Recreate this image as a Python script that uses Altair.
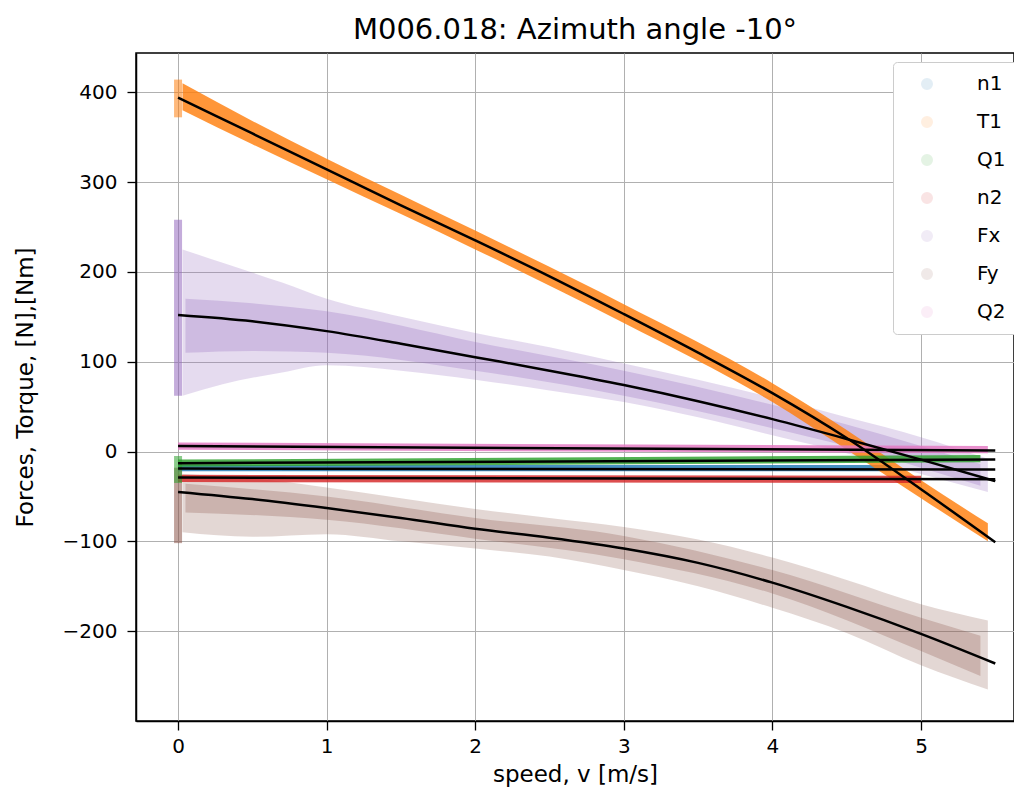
import altair as alt
import pandas as pd

series = ["n1", "T1", "Q1", "n2", "Fx", "Fy", "Q2"]
colors = ["#1f77b4", "#ff7f0e", "#2ca02c", "#d62728", "#9467bd", "#8c564b", "#e377c2"]

# fitted curves (black)
fit_v = [0.0, 0.5, 1.0, 1.5, 2.0, 2.5, 3.0, 3.5, 4.0, 4.5, 5.0, 5.5]
fit_T1 = [394, 354, 314, 274, 235, 195, 153, 110, 65, 15, -42, -101]
fit_Fx = [152, 145, 134, 120, 105, 90, 74, 56, 36, 14, -9, -33]
fit_Fy = [-45, -53, -63, -74, -86, -96, -108, -124, -146, -173, -203, -236]
flat_v = [0.0, 5.5]
fit_n1 = [-19, -20]
fit_Q1 = [-13, -9]
fit_n2 = [-29, -31]
fit_Q2 = [6, 1]

# envelopes of the measured scatter clouds
band_T1_v = [0.03, 0.5, 1, 2, 3, 4, 4.5, 5, 5.45]
band_T1_lo = [380, 342, 303, 225, 143, 55, 2, -52, -100]
band_T1_hi = [410, 368, 326, 246, 164, 76, 24, -32, -80]
band_Fx_v = [0.03, 0.3, 0.7, 1, 1.5, 2, 2.5, 3, 3.5, 4, 4.5, 5, 5.45]
band_Fx_lo = [62, 75, 88, 96, 90, 80, 68, 55, 38, 18, -2, -25, -45]
band_Fx_hi = [225, 210, 188, 170, 150, 132, 116, 98, 80, 60, 38, 16, -8]
band_Fy_v = [0.03, 0.5, 1, 1.5, 2, 2.5, 3, 3.5, 4, 4.5, 5, 5.45]
band_Fy_lo = [-90, -95, -92, -100, -108, -117, -132, -150, -174, -202, -238, -265]
band_Fy_hi = [-25, -30, -40, -52, -64, -74, -84, -98, -118, -143, -170, -188]
# denser cores of the two widest clouds
core_Fx_v = [0.05, 0.5, 1, 2, 3, 4, 4.5, 5, 5.4]
core_Fx_lo = [110, 112, 110, 90, 62, 26, 6, -18, -38]
core_Fx_hi = [170, 165, 156, 122, 90, 52, 30, 6, -14]
core_Fy_v = [0.05, 1, 2, 3, 4, 5, 5.4]
core_Fy_lo = [-68, -76, -97, -120, -158, -222, -250]
core_Fy_hi = [-36, -50, -74, -94, -132, -185, -205]
band_n1_v = [0.0, 4.8]
band_n1_lo = [-22, -22]
band_n1_hi = [-15, -15]
band_Q1_v = [0.0, 5.4]
band_Q1_lo = [-17, -12]
band_Q1_hi = [-9, -4]
band_n2_v = [0.0, 5.0]
band_n2_lo = [-34, -35]
band_n2_hi = [-26, -27]
band_Q2_v = [0.0, 5.45]
band_Q2_lo = [2, -2]
band_Q2_hi = [10, 6]

# vertical streaks of points measured at v = 0
streak_series = ["T1", "Fx", "Fy", "Q1"]
streak_lo = [372, 62, -102, -35]
streak_hi = [414, 258, -18, -5]


def band_frame(names, table):
    rows = []
    for s in names:
        vv, lo, hi = table[s]
        for a, b, c in zip(vv, lo, hi):
            rows.append({"series": s, "v": a, "lo": b, "hi": c})
    return pd.DataFrame(rows)


dense_df = band_frame(["n1", "T1", "Q1", "n2", "Q2"], {
    "n1": (band_n1_v, band_n1_lo, band_n1_hi),
    "T1": (band_T1_v, band_T1_lo, band_T1_hi),
    "Q1": (band_Q1_v, band_Q1_lo, band_Q1_hi),
    "n2": (band_n2_v, band_n2_lo, band_n2_hi),
    "Q2": (band_Q2_v, band_Q2_lo, band_Q2_hi),
})
wide_df = band_frame(["Fx", "Fy"], {
    "Fx": (band_Fx_v, band_Fx_lo, band_Fx_hi),
    "Fy": (band_Fy_v, band_Fy_lo, band_Fy_hi),
})
core_df = band_frame(["Fx", "Fy"], {
    "Fx": (core_Fx_v, core_Fx_lo, core_Fx_hi),
    "Fy": (core_Fy_v, core_Fy_lo, core_Fy_hi),
})

fits = {
    "n1": (flat_v, fit_n1), "T1": (fit_v, fit_T1), "Q1": (flat_v, fit_Q1),
    "n2": (flat_v, fit_n2), "Fx": (fit_v, fit_Fx), "Fy": (fit_v, fit_Fy),
    "Q2": (flat_v, fit_Q2),
}
fit_rows = []
for s in series:
    vv, yy = fits[s]
    for a, b in zip(vv, yy):
        fit_rows.append({"series": s, "v": a, "y": b})
fit_df = pd.DataFrame(fit_rows)

streak_df = pd.DataFrame({"series": streak_series, "v": [0.0] * 4,
                          "lo": streak_lo, "hi": streak_hi})
# one hidden point per series, only to carry the legend
legend_df = pd.DataFrame({"series": series, "v": [-5.0] * 7, "y": [0.0] * 7})

xscale = alt.Scale(domain=[-0.283, 5.626], nice=False, zero=False)
yscale = alt.Scale(domain=[-300, 443.6], nice=False, zero=False)
cscale = alt.Scale(domain=series, range=colors)

xaxis = alt.Axis(values=[0, 1, 2, 3, 4, 5], title="speed, v [m/s]", format="d")
yaxis = alt.Axis(values=[-200, -100, 0, 100, 200, 300, 400],
                 title="Forces, Torque, [N],[Nm]", format="d")

legend_layer = alt.Chart(legend_df).mark_circle(opacity=0.12, size=110, clip=True).encode(
    x=alt.X("v:Q", scale=xscale, axis=xaxis),
    y=alt.Y("y:Q", scale=yscale, axis=yaxis),
    color=alt.Color("series:N", scale=cscale, sort=series,
                    legend=alt.Legend(title=None, orient="none",
                                      legendX=757, legendY=9)),
)


def area_layer(df, op):
    return alt.Chart(df).mark_area(clip=True, interpolate="monotone", opacity=op).encode(
        x=alt.X("v:Q", scale=xscale),
        y=alt.Y("lo:Q", scale=yscale),
        y2="hi:Q",
        color=alt.Color("series:N", scale=cscale, legend=None),
        detail="series:N",
    )


streak_layer = alt.Chart(streak_df).mark_rule(strokeWidth=8, opacity=0.55, clip=True).encode(
    x=alt.X("v:Q", scale=xscale),
    y=alt.Y("lo:Q", scale=yscale),
    y2="hi:Q",
    color=alt.Color("series:N", scale=cscale, legend=None),
)

fit_layer = alt.Chart(fit_df).mark_line(color="black", strokeWidth=2.5, clip=True,
                                        interpolate="monotone").encode(
    x=alt.X("v:Q", scale=xscale),
    y=alt.Y("y:Q", scale=yscale),
    detail="series:N",
)

chart = alt.layer(
    legend_layer,
    area_layer(wide_df, 0.24),
    area_layer(core_df, 0.28),
    area_layer(dense_df, 0.82),
    streak_layer,
    fit_layer,
).properties(
    width=878, height=668,
    title=alt.TitleParams("M006.018: Azimuth angle -10°", fontSize=29,
                          font="DejaVu Sans", fontWeight="normal", color="black",
                          anchor="middle", offset=8),
    autosize=alt.AutoSizeParams(type="none"),
    padding={"left": 128, "top": 45, "right": 0, "bottom": 76},
).configure_view(
    stroke="black", strokeWidth=1.5
).configure_axis(
    labelFont="DejaVu Sans", titleFont="DejaVu Sans",
    labelFontSize=20, titleFontSize=23, labelColor="black", titleColor="black",
    titleFontWeight="normal",
    tickColor="black", tickSize=9, tickWidth=1.3,
    domainColor="black", domainWidth=1.5,
    gridColor="#b0b0b0", gridWidth=1, grid=True,
).configure_axisX(titlePadding=7, labelPadding=6).configure_axisY(
    titlePadding=25, labelPadding=10
).configure_legend(
    labelFont="DejaVu Sans", labelFontSize=20, labelColor="black",
    symbolType="circle", symbolSize=110,
    symbolOffset=12, labelOffset=40,
    padding=12, rowPadding=18,
    strokeColor="#cccccc", fillColor="white", cornerRadius=4,
)

chart.save("out.html", embed_options={"renderer": "svg", "actions": False})
